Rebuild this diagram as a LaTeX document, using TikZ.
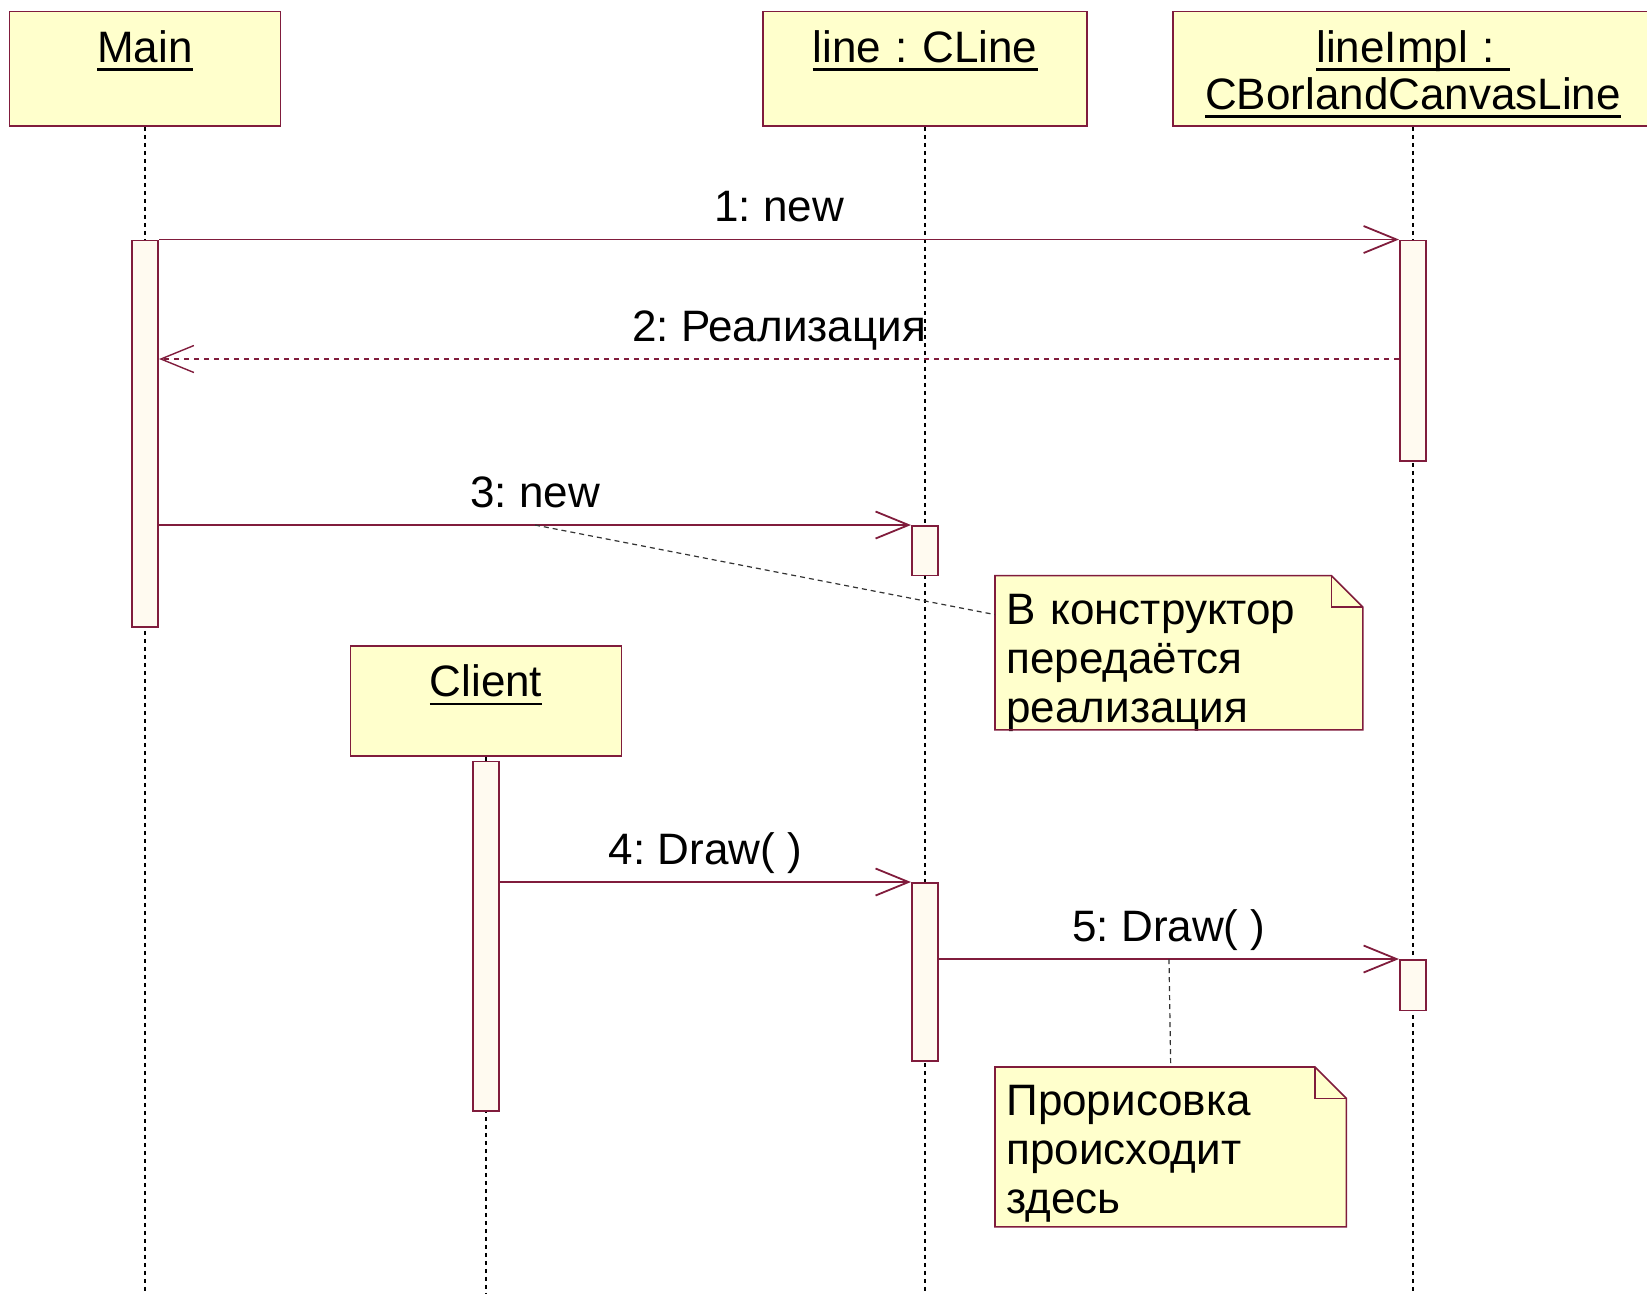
\documentclass[tikz,border=0pt]{standalone}
\usepackage{fontspec}
\setmainfont{Liberation Sans}
\usetikzlibrary{arrows.meta}
\frenchspacing

\definecolor{rose}{RGB}{128,28,60}
\definecolor{objfill}{RGB}{255,255,204}
\definecolor{actfill}{RGB}{255,250,240}

\newcommand{\umlfont}{\fontsize{22}{23.5}\selectfont}
\newcommand{\notefont}{\fontsize{22}{24.5}\selectfont}
\newcommand{\objname}[1]{\leavevmode\setbox0\hbox{#1}\rlap{\rule[-4.3pt]{\wd0}{1.3pt}}\box0}
\newcommand{\notebox}[1]{%
  \fill[white] ([xshift=-15.75pt]#1.north east) -- (#1.north east) -- ([yshift=-15.75pt]#1.north east) -- cycle;
  \draw[noteline] (#1.north west) -- ([xshift=-15.75pt]#1.north east) -- ([yshift=-15.75pt]#1.north east)
    -- (#1.south east) -- (#1.south west) -- cycle;
  \draw[noteline] ([xshift=-15.75pt]#1.north east) |- ([yshift=-15.75pt]#1.north east);}

\begin{document}
\begin{tikzpicture}[x=0.5pt, y=-0.5pt,
    obj/.style={draw=rose, fill=objfill, line width=0.8pt, inner sep=0pt, align=center,
      text height=25.25pt, text depth=32pt, font=\umlfont},
    act/.style={draw=rose, fill=actfill, line width=0.8pt, inner sep=0pt,
      minimum width=13.25pt, anchor=north},
    life/.style={line width=0.6pt, dash pattern=on 2pt off 2pt},
    msg/.style={draw=rose, line width=0.9pt, -{Straight Barb[length=16.5pt, width=13.5pt]}},
    ret/.style={msg, line width=0.7pt, dash pattern=on 2.5pt off 2.5pt},
    msglabel/.style={anchor=base, inner sep=0pt, yshift=9pt, font=\umlfont},
    note/.style={fill=objfill, anchor=north west, inner xsep=5.5pt, inner ysep=0pt,
      align=left, text height=24pt, font=\notefont},
    noteline/.style={draw=rose, line width=0.8pt},
    notelink/.style={draw=black!80, line width=0.6pt, dash pattern=on 2.5pt off 2pt}]

    \useasboundingbox (0,0) rectangle (1647,1298);

    % objects
    \node[obj, text width=135.5pt] (main) at (145,68.75) {\objname{Main}};
    \node[obj, text width=162.25pt] (line) at (925,68.75) {\objname{line : CLine}};
    \node[obj, text width=240pt] (impl) at (1413,68.75) {\objname{lineImpl :\ }\\\objname{CBorlandCanvasLine}};
    \node[obj, text width=135.5pt, text depth=29.75pt] (client) at (486,701) {\objname{Client}};

    % lifelines
    \coordinate (bottom) at (0,1294);
    \draw[life] (main.south) -- (main.south |- bottom);
    \draw[life] (line.south) -- (line.south |- bottom);
    \draw[life] (impl.south) -- (impl.south |- bottom);
    \draw[life] (client.south) -- (client.south |- bottom);

    % activations
    \node[act, minimum height=193.25pt] (mainact) at (145,239.5) {};
    \node[act, minimum height=110.25pt] (implact1) at (1413,239.5) {};
    \node[act, minimum height=24.8pt] (lineact1) at (925,525) {};
    \node[act, minimum height=174.75pt] (clientact) at (486,760.5) {};
    \node[act, minimum height=89pt] (lineact2) at (925,882) {};
    \node[act, minimum height=25.25pt] (implact2) at (1413,959) {};

    % messages
    \coordinate (row2) at (0,359);
    \draw[msg] (mainact.north east) -- (implact1.north west) node[midway, msglabel] {1: new};
    \draw[ret] (implact1.west |- row2) -- (mainact.east |- row2) node[midway, msglabel] {2: Реализация};
    \draw[msg] (mainact.east |- lineact1.north) -- (lineact1.north west)
        node[midway, msglabel] {3: new} coordinate[midway] (m3);
    \draw[msg] (clientact.east |- lineact2.north) -- (lineact2.north west) node[midway, msglabel] {4: Draw( )};
    \draw[msg] (lineact2.east |- implact2.north) -- (implact2.north west)
        node[midway, msglabel] {5: Draw( )} coordinate[midway] (m5);

    % notes
    \node[note, text width=172.5pt, text depth=52.75pt] (note1) at (995,575.6)
        {В конструктор\\передаётся\\реализация};
    \notebox{note1}
    \draw[notelink] (m3) -- ([yshift=-19.5pt]note1.north west);

    \node[note, text width=164.3pt, text depth=55.5pt] (note2) at (995,1067)
        {Прорисовка\\происходит\\здесь};
    \notebox{note2}
    \draw[notelink] (m5) -- (note2.north);

\end{tikzpicture}
\end{document}
